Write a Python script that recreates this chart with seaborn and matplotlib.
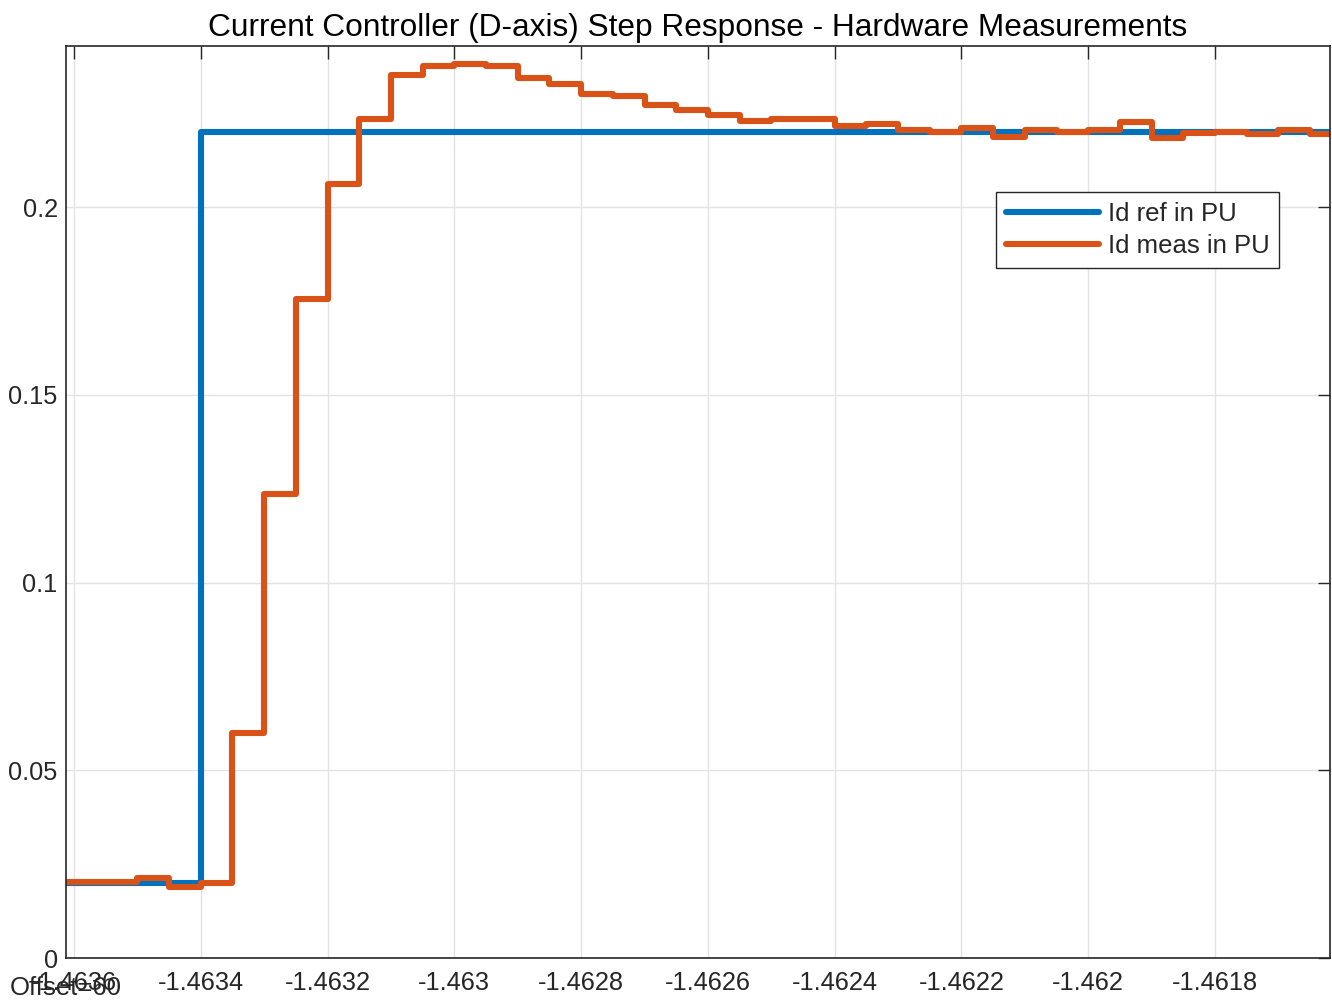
import numpy as np
import pandas as pd
import matplotlib
matplotlib.use("Agg")
import matplotlib.pyplot as plt
from matplotlib.ticker import FixedLocator, FixedFormatter
import seaborn as sns

# Sample instants (s, offset removed) at a 50 us controller period
time_s = [
    -1.46365, -1.4636, -1.46355, -1.4635, -1.46345, -1.4634, -1.46335, -1.4633,
    -1.46325, -1.4632, -1.46315, -1.4631, -1.46305, -1.463, -1.46295, -1.4629,
    -1.46285, -1.4628, -1.46275, -1.4627, -1.46265, -1.4626, -1.46255, -1.4625,
    -1.46245, -1.4624, -1.46235, -1.4623, -1.46225, -1.4622, -1.46215, -1.4621,
    -1.46205, -1.462, -1.46195, -1.4619, -1.46185, -1.4618, -1.46175, -1.4617,
    -1.46165, -1.4616,
]

# D-axis current reference (per unit)
id_ref_pu = [
    0.02, 0.02, 0.02, 0.02, 0.02, 0.22, 0.22, 0.22,
    0.22, 0.22, 0.22, 0.22, 0.22, 0.22, 0.22, 0.22,
    0.22, 0.22, 0.22, 0.22, 0.22, 0.22, 0.22, 0.22,
    0.22, 0.22, 0.22, 0.22, 0.22, 0.22, 0.22, 0.22,
    0.22, 0.22, 0.22, 0.22, 0.22, 0.22, 0.22, 0.22,
    0.22, 0.22,
]

# Measured D-axis current (per unit)
id_meas_pu = [
    0.0202, 0.0202, 0.0202, 0.0213, 0.0190, 0.0200, 0.0599, 0.1236,
    0.1755, 0.2062, 0.2235, 0.2352, 0.2375, 0.2382, 0.2377, 0.2344,
    0.2328, 0.2300, 0.2295, 0.2273, 0.2258, 0.2245, 0.2230, 0.2235,
    0.2235, 0.2216, 0.2221, 0.2205, 0.2199, 0.2210, 0.2187, 0.2205,
    0.2199, 0.2205, 0.2227, 0.2185, 0.2196, 0.2199, 0.2194, 0.2205,
    0.2194, 0.2194,
]

x_ticks = [-1.4636, -1.4634, -1.4632, -1.463, -1.4628, -1.4626,
           -1.4624, -1.4622, -1.462, -1.4618]
x_tick_labels = ["-1.4636", "-1.4634", "-1.4632", "-1.463", "-1.4628",
                 "-1.4626", "-1.4624", "-1.4622", "-1.462", "-1.4618"]
y_ticks = [0, 0.05, 0.1, 0.15, 0.2]
y_tick_labels = ["0", "0.05", "0.1", "0.15", "0.2"]

series_names = ["Id ref in PU", "Id meas in PU"]
series_colors = ["#0072BD", "#D95319"]

df = pd.DataFrame({
    "t": time_s * 2,
    "value": id_ref_pu + id_meas_pu,
    "signal": [series_names[0]] * len(time_s) + [series_names[1]] * len(time_s),
})

sns.set_theme(style="white")
plt.rcParams["font.family"] = ["Liberation Sans", "DejaVu Sans"]

fig = plt.figure(figsize=(13.32, 10.01), dpi=100)
ax = fig.add_axes([66 / 1332, 43 / 1001, 1264 / 1332, 912 / 1001])

for name, color in zip(series_names, series_colors):
    sns.lineplot(data=df[df["signal"] == name], x="t", y="value", ax=ax,
                 color=color, linewidth=4.4, drawstyle="steps-post",
                 label=name, estimator=None, sort=False)

ax.set_xlim(-1.46361262, -1.46161859)
ax.set_ylim(0, 0.2429)
ax.xaxis.set_major_locator(FixedLocator(x_ticks))
ax.xaxis.set_major_formatter(FixedFormatter(x_tick_labels))
ax.yaxis.set_major_locator(FixedLocator(y_ticks))
ax.yaxis.set_major_formatter(FixedFormatter(y_tick_labels))
ax.set_xlabel("")
ax.set_ylabel("")

ax.grid(True, color="#E3E3E3", linewidth=1.0)
ax.set_axisbelow(True)
for s in ax.spines.values():
    s.set_color("#262626")
    s.set_linewidth(1.2)
    s.set_visible(True)
ax.tick_params(axis="both", which="major", direction="in", length=9,
               width=1.0, color="#262626", labelsize=18.3, labelcolor="#262626",
               top=True, right=True)
ax.tick_params(axis="x", pad=9.5)
ax.tick_params(axis="y", pad=6)

ax.set_title("Current Controller (D-axis) Step Response - Hardware Measurements",
             fontsize=22.8, color="#000000", pad=7)

leg = ax.legend(loc="upper right", bbox_to_anchor=(0.9597, 0.840),
                borderaxespad=0, fontsize=18.5, frameon=True, fancybox=False,
                handlelength=3.6, handletextpad=0.35, borderpad=0.38,
                labelspacing=0.32)
leg.get_frame().set_edgecolor("#262626")
leg.get_frame().set_linewidth(1.0)
leg.get_frame().set_alpha(1.0)

fig.text(10 / 1332, 1 - 995 / 1001, "Offset=60", fontsize=18.5,
         color="#262626", ha="left", va="baseline")

fig.savefig("out.png", dpi=100)
